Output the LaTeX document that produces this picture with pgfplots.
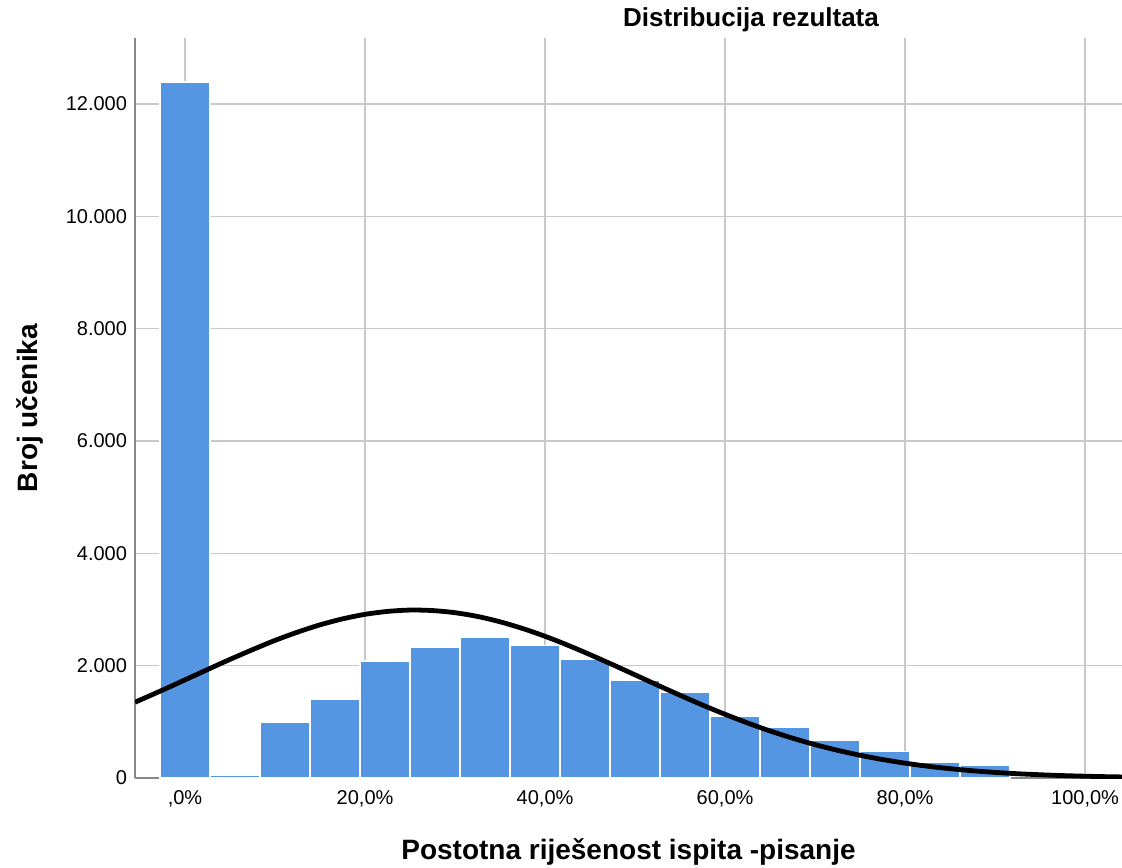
\documentclass[border=0pt]{standalone}
\usepackage{fontspec}
\setmainfont{Liberation Sans}
\usepackage{pgfplots}
\pgfplotsset{compat=1.18}
\definecolor{barblue}{HTML}{5596E3}
\definecolor{gridgray}{HTML}{C8C8C8}
\definecolor{axisgray}{HTML}{888888}
\begin{document}
\begin{tikzpicture}
\begin{axis}[
  name=ax, at={(0,0)}, anchor=south west,
  scale only axis,
  width=740.25pt, height=555pt,
  xmin=-5.56, xmax=104.1,
  ymin=0, ymax=13175,
  axis x line*=bottom, axis y line*=left,
  axis line style={draw=axisgray, line width=1.1pt},
  xtick={0,20,40,60,80,100},
  xticklabels={{,0\%},{20,0\%},{40,0\%},{60,0\%},{80,0\%},{100,0\%}},
  ytick={0,2000,4000,6000,8000,10000,12000},
  yticklabels={0,2.000,4.000,6.000,8.000,10.000,12.000},
  scaled y ticks=false,
  major tick length=0pt,
  grid=major,
  grid style={draw=gridgray, line width=1.1pt},
  ticklabel style={font=\fontsize{15}{17}\selectfont},
  xticklabel style={yshift=-6pt},
  yticklabel style={xshift=-2.5pt},
  xlabel={Postotna riješenost ispita -pisanje},
  ylabel={Broj učenika},
  xlabel style={at={(axis description cs:0.5,0)}, anchor=center, yshift=-55.5pt,
    font=\bfseries\fontsize{21}{24}\selectfont},
  ylabel style={at={(axis description cs:0,0.5)}, anchor=center, yshift=78.75pt,
    font=\bfseries\fontsize{21}{24}\selectfont},
]
\addplot[ybar, bar width=5.556, bar shift=0pt, fill=barblue, draw=white, line width=1pt]
coordinates {
  (0,12390) (5.556,45) (11.111,990) (16.667,1406) (22.222,2083)
  (27.778,2330) (33.333,2500) (38.889,2365) (44.444,2115) (50,1745)
  (55.556,1522) (61.111,1090) (66.667,908) (72.222,677) (77.778,472)
  (83.333,277) (88.889,222)
};
% fitted normal curve
\addplot[black, line width=3.6pt, smooth] coordinates {
  (-5.56,1349) (-2.5,1565) (0,1748) (2.5,1931) (5,2112) (7.5,2285)
  (10,2450) (12.5,2597) (15,2727) (17.5,2833) (20,2914) (22.5,2966)
  (25,2990) (27.5,2981) (30,2943) (32.5,2876) (35,2781) (37.5,2662)
  (40,2523) (42.5,2366) (45,2196) (47.5,2018) (50,1836) (52.5,1653)
  (55,1473) (57.5,1298) (60,1134) (62.5,980) (65,838) (67.5,709)
  (70,594) (72.5,493) (75,405) (77.5,329) (80,264) (82.5,210)
  (85,166) (87.5,129) (90,100) (92.5,76) (95,58) (97.5,43)
  (100,32) (102.5,23) (104.1,19)
};
\end{axis}
\node[font=\bfseries\fontsize{19.5}{22}\selectfont, anchor=center]
  at ([xshift=462pt, yshift=13.5pt]ax.north west) {Distribucija rezultata};
\pgfresetboundingbox
\useasboundingbox ([xshift=-101.25pt, yshift=-66.75pt]ax.south west)
  rectangle ([yshift=28.5pt]ax.north east);
\end{tikzpicture}
\end{document}
